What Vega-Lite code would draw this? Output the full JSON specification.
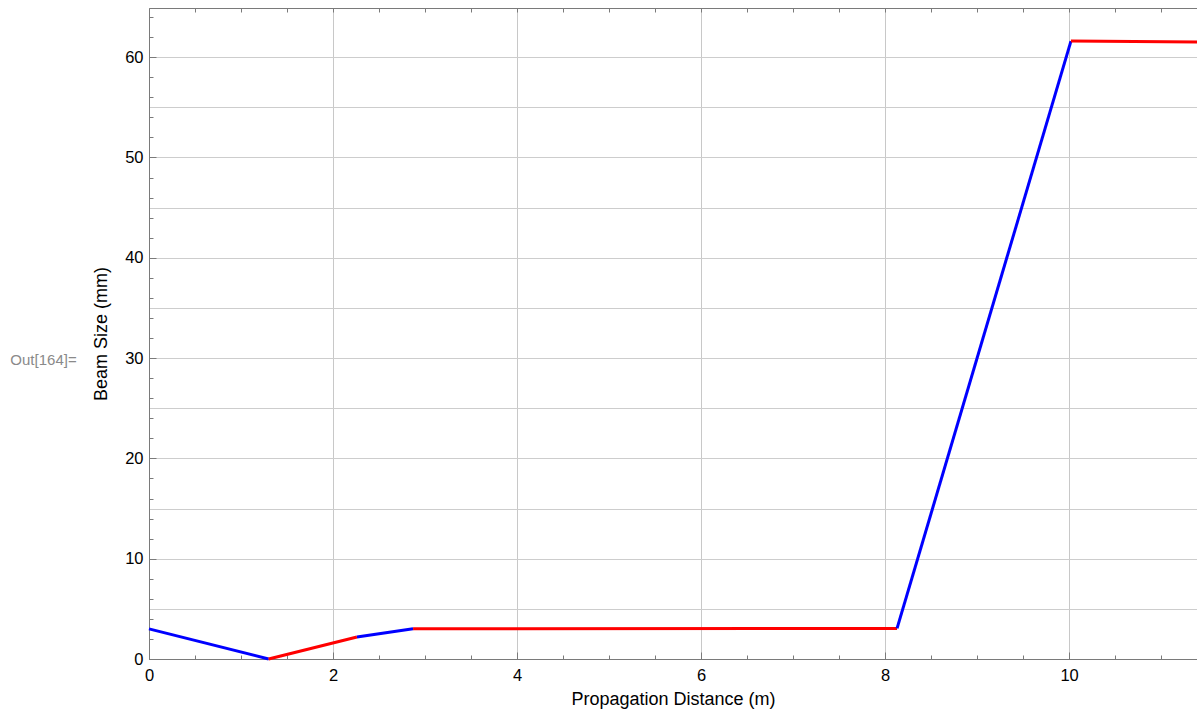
{
  "$schema": "https://vega.github.io/schema/vega-lite/v6.json",
  "width": 1048,
  "height": 651,
  "autosize": {"type": "none"},
  "padding": {"left": 149, "top": 8, "right": 0, "bottom": 66},
  "background": "white",
  "config": {
    "view": {"stroke": null},
    "font": "Liberation Sans",
    "axis": {
      "labelFont": "Liberation Sans",
      "labelFontSize": 16.5,
      "labelColor": "#000000",
      "labelFlush": false,
      "titleFont": "Liberation Sans",
      "titleFontSize": 18,
      "titleFontWeight": "normal",
      "titleColor": "#000000",
      "domainColor": "#7a7a7a",
      "tickColor": "#7a7a7a",
      "gridColor": "#cdcdcd",
      "gridWidth": 1
    }
  },
  "title": {
    "text": "Out[164]=",
    "orient": "left",
    "angle": 0,
    "align": "left",
    "baseline": "middle",
    "anchor": "middle",
    "offset": 16,
    "dy": 26,
    "color": "#8a8a8a",
    "font": "Liberation Sans",
    "fontSize": 15,
    "fontWeight": "normal"
  },
  "data": {
    "values": [
      {"x": 0, "y": 3.0, "seg": 1, "c": "blue"},
      {"x": 1.3, "y": 0.0, "seg": 1, "c": "blue"},
      {"x": 1.3, "y": 0.0, "seg": 2, "c": "red"},
      {"x": 2.26, "y": 2.2, "seg": 2, "c": "red"},
      {"x": 2.26, "y": 2.2, "seg": 3, "c": "blue"},
      {"x": 2.87, "y": 3.02, "seg": 3, "c": "blue"},
      {"x": 2.87, "y": 3.02, "seg": 4, "c": "red"},
      {"x": 8.13, "y": 3.05, "seg": 4, "c": "red"},
      {"x": 8.13, "y": 3.05, "seg": 5, "c": "blue"},
      {"x": 10.02, "y": 61.6, "seg": 5, "c": "blue"},
      {"x": 10.02, "y": 61.6, "seg": 6, "c": "red"},
      {"x": 11.39, "y": 61.5, "seg": 6, "c": "red"}
    ]
  },
  "layer": [
    {
      "mark": {"type": "line", "opacity": 0},
      "encoding": {
        "x": {"field": "x", "type": "quantitative", "scale": {"domain": [0, 11.39], "nice": false, "zero": false}, "axis": null},
        "y": {"field": "y", "type": "quantitative", "scale": {"domain": [0, 64.9], "nice": false, "zero": false},
          "axis": {"orient": "left", "values": [0, 5, 10, 15, 20, 25, 30, 35, 40, 45, 50, 55, 60], "grid": true, "labels": false, "ticks": false, "domain": false, "title": null}}
      }
    },
    {
      "mark": {"type": "line", "opacity": 0},
      "encoding": {
        "x": {"field": "x", "type": "quantitative",
          "axis": {"orient": "bottom", "values": [0, 2, 4, 6, 8, 10], "grid": true, "gridColor": "#c8c8c8", "ticks": false, "labelPadding": 8, "labelFlush": false, "domain": true, "title": "Propagation Distance (m)", "titlePadding": 7}},
        "y": {"field": "y", "type": "quantitative",
          "axis": {"orient": "left", "values": [0, 10, 20, 30, 40, 50, 60], "grid": false, "ticks": false, "labelPadding": 6, "labelFlush": false, "domain": true, "title": "Beam Size (mm)", "titlePadding": 14}}
      }
    },
    {
      "mark": {"type": "line", "opacity": 0},
      "encoding": {
        "x": {"field": "x", "type": "quantitative",
          "axis": {"orient": "bottom", "values": [0, 0.5, 1, 1.5, 2, 2.5, 3, 3.5, 4, 4.5, 5, 5.5, 6, 6.5, 7, 7.5, 8, 8.5, 9, 9.5, 10, 10.5, 11], "grid": false, "labels": false, "domain": false, "tickSize": -4, "title": null}},
        "y": {"field": "y", "type": "quantitative",
          "axis": {"orient": "left", "values": [0, 2, 4, 6, 8, 10, 12, 14, 16, 18, 20, 22, 24, 26, 28, 30, 32, 34, 36, 38, 40, 42, 44, 46, 48, 50, 52, 54, 56, 58, 60, 62, 64], "grid": false, "labels": false, "domain": false, "tickSize": -4, "title": null}}
      }
    },
    {
      "mark": {"type": "line", "opacity": 0},
      "encoding": {
        "x": {"field": "x", "type": "quantitative",
          "axis": {"orient": "bottom", "values": [0, 2, 4, 6, 8, 10], "grid": false, "labels": false, "domain": false, "tickSize": -7, "title": null}},
        "y": {"field": "y", "type": "quantitative",
          "axis": {"orient": "left", "values": [0, 10, 20, 30, 40, 50, 60], "grid": false, "labels": false, "domain": false, "tickSize": -7, "title": null}}
      }
    },
    {
      "mark": {"type": "line", "opacity": 0},
      "encoding": {
        "x": {"field": "x", "type": "quantitative",
          "axis": {"orient": "top", "values": [0, 0.5, 1, 1.5, 2, 2.5, 3, 3.5, 4, 4.5, 5, 5.5, 6, 6.5, 7, 7.5, 8, 8.5, 9, 9.5, 10, 10.5, 11], "grid": false, "labels": false, "domain": true, "tickSize": -4, "title": null}},
        "y": {"field": "y", "type": "quantitative", "axis": null}
      }
    },
    {
      "mark": {"type": "line", "strokeWidth": 3},
      "encoding": {
        "x": {"field": "x", "type": "quantitative", "axis": null},
        "y": {"field": "y", "type": "quantitative", "axis": null},
        "color": {"field": "c", "type": "nominal", "scale": {"domain": ["blue", "red"], "range": ["#0000ff", "#ff0000"]}, "legend": null},
        "detail": {"field": "seg", "type": "nominal"}
      }
    }
  ],
  "resolve": {"axis": {"x": "independent", "y": "independent"}}
}
